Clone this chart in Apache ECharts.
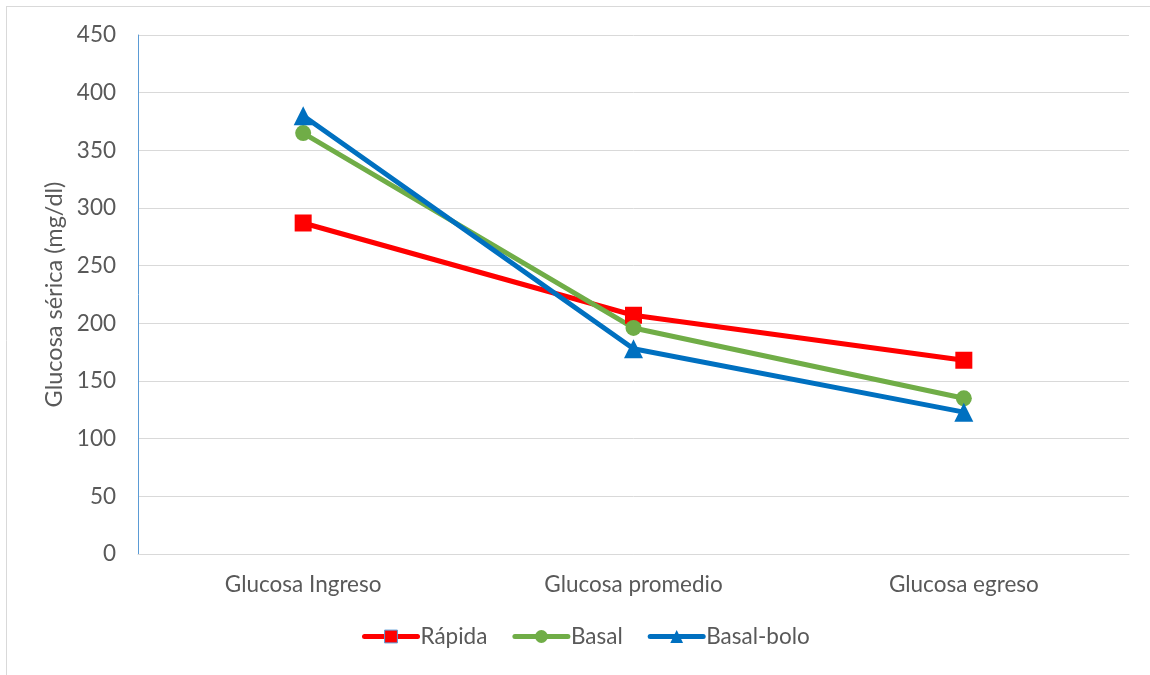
<!DOCTYPE html>
<html>
<head>
<meta charset="utf-8">
<script src="https://cdn.jsdelivr.net/npm/echarts@6/dist/echarts.min.js"></script>
<style>
  html, body { margin: 0; padding: 0; background: #fff; }
  #chart { width: 1150px; height: 675px; }
</style>
</head>
<body>
<div id="chart"></div>
<script>
// Serum glucose (mg/dl) by insulin regimen
const categories = ['Glucosa Ingreso', 'Glucosa promedio', 'Glucosa egreso'];
const rapida = [287, 207, 168];
const basal = [365, 196, 135];
const basalBolo = [380, 178, 123];
const yTicks = { min: 0, max: 450, interval: 50 };

const FONT = 'Lato';
const TEXT = '#595959';
const FS = 22.5;

const chart = echarts.init(document.getElementById('chart'), null, { renderer: 'canvas' });

function lineSeries(name, data, color, symbol, size) {
  return {
    name, type: 'line', data,
    symbol, symbolSize: size,
    lineStyle: { color, width: 5 },
    itemStyle: { color, borderWidth: 0 },
    emphasis: { disabled: true },
    animation: false,
    z: 3
  };
}

chart.setOption({
  backgroundColor: '#fff',
  textStyle: { fontFamily: FONT },
  grid: { left: 138, right: 21, top: 35, bottom: 121, containLabel: false },
  xAxis: {
    type: 'category',
    data: categories,
    boundaryGap: true,
    axisLine: { show: true, lineStyle: { color: '#d9d9d9', width: 1 } },
    axisTick: { show: false },
    axisLabel: { color: TEXT, fontSize: FS, fontFamily: FONT, margin: 19 }
  },
  yAxis: {
    type: 'value',
    min: yTicks.min, max: yTicks.max, interval: yTicks.interval,
    name: 'Glucosa sérica (mg/dl)',
    nameLocation: 'middle',
    nameGap: 64,
    nameTextStyle: { color: TEXT, fontSize: 23.5, fontFamily: FONT },
    axisLine: { show: true, lineStyle: { color: '#5b9bd5', width: 1 } },
    axisTick: { show: false },
    splitLine: { lineStyle: { color: '#d9d9d9', width: 1 } },
    axisLabel: { color: TEXT, fontSize: FS, fontFamily: FONT, margin: 22 }
  },
  legend: {
    bottom: 22,
    left: 357,
    itemWidth: 53,
    itemHeight: 16,
    itemGap: 25,
    textStyle: { color: TEXT, fontSize: FS, fontFamily: FONT, padding: [0, 0, 0, -2] },
    data: [
      { name: 'Rápida', itemStyle: { borderColor: '#5b9bd5', borderWidth: 1 }, lineStyle: { width: 5, cap: 'round' } },
      { name: 'Basal', lineStyle: { width: 5, cap: 'round' } },
      { name: 'Basal-bolo', lineStyle: { width: 5, cap: 'round' } }
    ]
  },
  series: [
    lineSeries('Rápida', rapida, '#ff0000', 'rect', 17),
    lineSeries('Basal', basal, '#70ad47', 'circle', 16),
    lineSeries('Basal-bolo', basalBolo, '#0070c0', 'triangle', 19)
  ],
  graphic: [
    { type: 'line', shape: { x1: 6, y1: 6.5, x2: 1150, y2: 6.5 }, style: { stroke: '#d9d9d9', lineWidth: 1 } },
    { type: 'line', shape: { x1: 6.5, y1: 6, x2: 6.5, y2: 675 }, style: { stroke: '#d9d9d9', lineWidth: 1 } }
  ]
});
</script>
</body>
</html>
